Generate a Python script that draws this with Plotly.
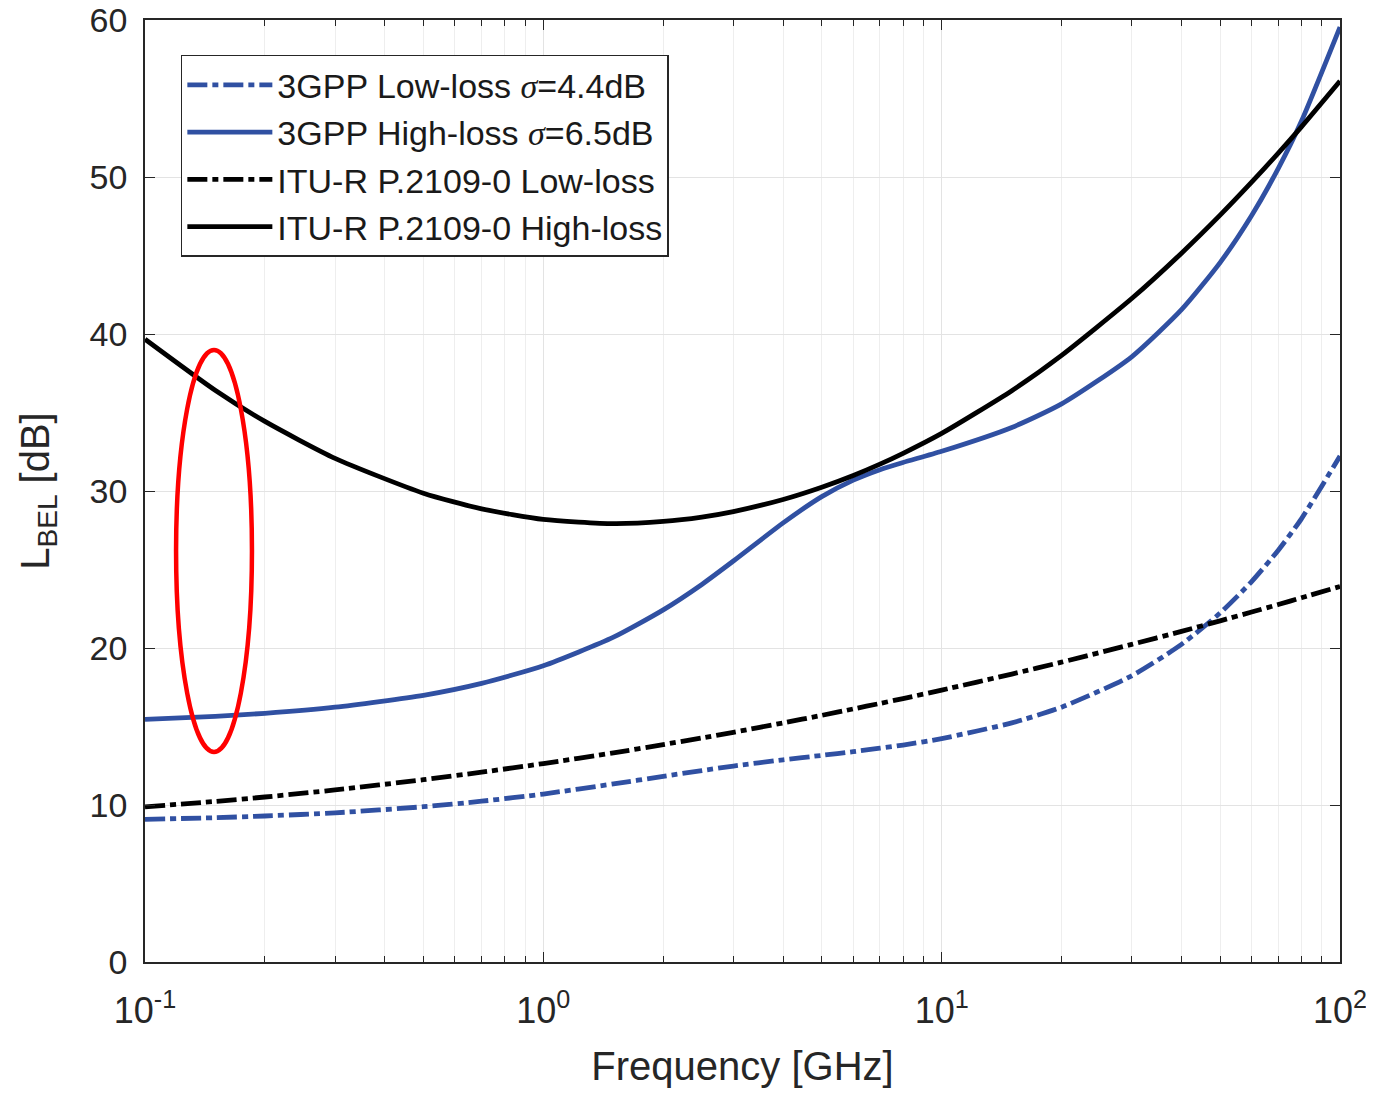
import plotly.graph_objects as go

freq_ghz = [0.1, 0.15, 0.2, 0.3, 0.5, 0.7, 1, 1.5, 2, 2.5, 3, 4, 5, 6, 7, 8, 10,
            15, 20, 30, 40, 50, 60, 70, 80, 100]

gpp_low = [9.09, 9.19, 9.30, 9.50, 9.89, 10.24, 10.70, 11.34, 11.83, 12.19, 12.48,
           12.88, 13.16, 13.40, 13.62, 13.82, 14.23,
           15.23, 16.23, 18.23, 20.23, 22.23, 24.23, 26.23, 28.23, 32.23]

gpp_high = [15.46, 15.65, 15.84, 16.23, 16.99, 17.75, 18.87, 20.69, 22.43, 24.05, 25.54,
            27.97, 29.64, 30.69, 31.36, 31.82, 32.53,
            34.05, 35.55, 38.55, 41.55, 44.55, 47.55, 50.55, 53.55, 59.55]

itu_low = [9.88, 10.23, 10.51, 10.96, 11.61, 12.09, 12.64, 13.32, 13.85, 14.27, 14.63,
           15.23, 15.71, 16.12, 16.47, 16.78, 17.32,
           18.34, 19.10, 20.23, 21.06, 21.73, 22.29, 22.77, 23.20, 23.92]

itu_high = [39.67, 36.42, 34.43, 32.08, 29.86, 28.86, 28.19, 27.92, 28.06, 28.34, 28.69,
            29.46, 30.24, 30.99, 31.71, 32.40, 33.67,
            36.39, 38.64, 42.26, 45.15, 47.57, 49.67, 51.52, 53.19, 56.11]

series_names = ["3GPP Low-loss <span style='font-family:Liberation Serif'><i>σ</i></span>=4.4dB",
                "3GPP High-loss <span style='font-family:Liberation Serif'><i>σ</i></span>=6.5dB",
                "ITU-R P.2109-0 Low-loss", "ITU-R P.2109-0 High-loss"]

x_tickvals = [0.1, 1, 10, 100]
x_ticktext = ["10<sup>-1</sup>", "10<sup>0</sup>", "10<sup>1</sup>", "10<sup>2</sup>"]
y_tickvals = [0, 10, 20, 30, 40, 50, 60]

BLUE = "#3050A2"
INK = "#262626"
FONT = "Liberation Sans, Arial, sans-serif"
DASHDOT = "20px,5px,6px,5px"

fig = go.Figure()
styles = [
    (gpp_low, BLUE, DASHDOT),
    (gpp_high, BLUE, "solid"),
    (itu_low, "black", DASHDOT),
    (itu_high, "black", "solid"),
]
for (vals, col, dash), name in zip(styles, series_names):
    fig.add_trace(go.Scatter(
        x=freq_ghz, y=vals, mode="lines", name=name,
        line=dict(color=col, width=4.8, dash=dash, shape="spline", smoothing=0.6),
    ))

# red ellipse highlight
fig.add_shape(type="circle", xref="paper", yref="paper",
              x0=0.026, x1=0.0895, y0=0.223, y1=0.6497,
              line=dict(color="#FF0000", width=4.5))

grid_col = "#E3E3E3"
fig.update_layout(
    width=1366, height=1086,
    margin=dict(l=137, r=34, t=12, b=132, autoexpand=False),
    paper_bgcolor="white", plot_bgcolor="white",
    font=dict(family=FONT, size=34, color=INK),
    showlegend=True,
    legend=dict(
        x=0.030, y=0.963, xanchor="left", yanchor="top",
        bgcolor="white", bordercolor=INK, borderwidth=1.5,
        font=dict(family=FONT, size=34, color="#1a1a1a"),
        itemwidth=85, tracegroupgap=0,
    ),
    xaxis=dict(
        type="log", range=[-1, 2], automargin=False,
        tickvals=x_tickvals, ticktext=x_ticktext,
        ticks="inside", ticklen=10, tickcolor=INK,
        ticklabelstandoff=16, ticklabeloverflow="allow",
        showline=True, linecolor=INK, linewidth=1.5, mirror="allticks",
        showgrid=True, gridcolor=grid_col, gridwidth=1,
        minor=dict(dtick="D1", ticks="inside", ticklen=6, tickcolor=INK,
                   showgrid=True, gridcolor="#EEEEEE", gridwidth=1),
        tickfont=dict(size=36, color=INK),
        title=dict(text="Frequency [GHz]", font=dict(size=40, color=INK), standoff=22),
        zeroline=False,
    ),
    yaxis=dict(
        range=[0, 60], tickvals=y_tickvals, automargin=False,
        ticks="inside", ticklen=10, tickcolor=INK,
        ticklabelstandoff=9, ticklabeloverflow="allow",
        showline=True, linecolor=INK, linewidth=1.5, mirror="allticks",
        showgrid=True, gridcolor=grid_col, gridwidth=1,
        tickfont=dict(size=34, color=INK),
        title=dict(text="L<sub>BEL</sub> [dB]", font=dict(size=40, color=INK), standoff=28),
        zeroline=False,
    ),
)

fig.write_html("out.html")
